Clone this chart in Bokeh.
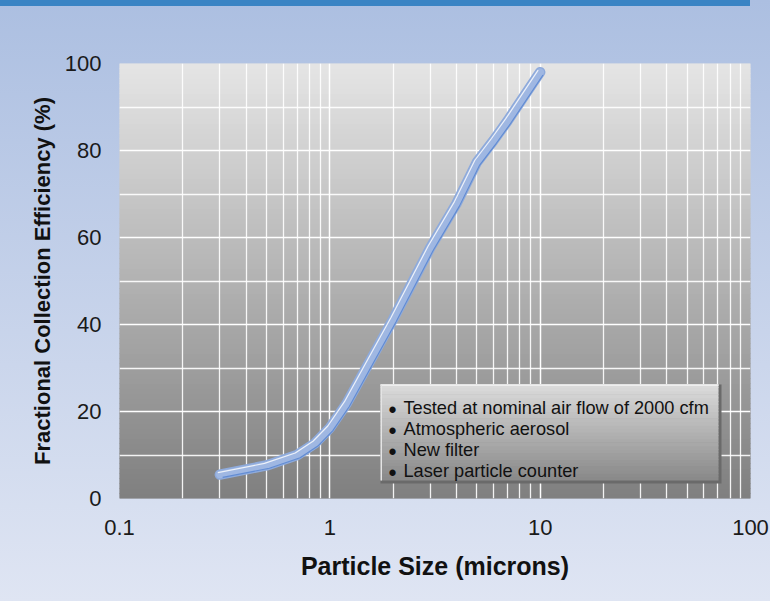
import numpy as np
from bokeh.plotting import figure
from bokeh.models import Range1d, FixedTicker, CustomJSTickFormatter, BoxAnnotation, Label
from bokeh.embed import file_html
from bokeh.resources import INLINE

# ---- data ----
particle_size = [0.3, 0.5, 0.7, 0.85, 1.0, 1.2, 1.5, 2.0, 3.0, 4.0, 5.0, 6.0, 7.0, 10.0]
efficiency = [5.5, 7.6, 10.0, 12.7, 16.2, 21.8, 30.3, 41.2, 57.6, 67.8, 77.3, 82.3, 86.8, 98.0]
x_major = [0.1, 1, 10, 100]
x_minor = [m * 10.0 ** k for k in (-1, 0, 1) for m in range(2, 10)]
y_major = [0, 20, 40, 60, 80, 100]
y_minor = [10, 30, 50, 70, 90]
notes = ["Tested at nominal air flow of 2000 cfm", "Atmospheric aerosol",
         "New filter", "Laser particle counter"]

FONT = "Liberation Sans"
W, H = 770, 601
FRAME_W, FRAME_H = 631, 435   # frame size in px (used for small screen offsets of the tube effect)

p = figure(width=W, height=H, x_axis_type="log",
           x_range=Range1d(0.1, 100), y_range=Range1d(0, 100),
           output_backend="svg", toolbar_location=None,
           min_border_left=119, min_border_right=20,
           min_border_top=63, min_border_bottom=103)
p.border_fill_color = None
p.background_fill_color = None
p.outline_line_color = None
p.styles = {"background": "linear-gradient(#3a84c4, #3a84c4) 0 0 / 750px 6px no-repeat, "
                          "linear-gradient(to bottom, #acbfe1 0%, #dfe5f3 100%)"}

# ---- frame gradient background ----
n = 87
edges = np.linspace(0, 100, n + 1)
c_top = np.array([229, 229, 229])
c_bot = np.array([127, 127, 127])
mids = (edges[:-1] + edges[1:]) / 200.0
cols = ["#%02x%02x%02x" % tuple(int(round(v)) for v in (c_bot + (c_top - c_bot) * t)) for t in mids]
bg = p.quad(left=0.1, right=100, bottom=edges[:-1], top=edges[1:],
            fill_color=cols, line_color=cols, line_width=1)
bg.level = "image"

# ---- ticks and grid ----
xt = FixedTicker(ticks=x_major, minor_ticks=x_minor)
yt = FixedTicker(ticks=y_major, minor_ticks=y_minor)
p.xaxis.ticker = xt
p.yaxis.ticker = yt
p.xgrid.ticker = xt
p.ygrid.ticker = yt
for g in (p.xgrid[0], p.ygrid[0]):
    g.grid_line_color = "white"
    g.grid_line_width = 1.5
    g.minor_grid_line_color = "white"
    g.minor_grid_line_width = 1.3
    g.minor_grid_line_alpha = 0.9

p.xaxis.formatter = CustomJSTickFormatter(code="return tick.toString();")

for ax in (p.xaxis[0], p.yaxis[0]):
    ax.axis_line_color = None
    ax.major_tick_line_color = None
    ax.minor_tick_line_color = None
    ax.major_label_text_font = FONT
    ax.major_label_text_font_size = "22px"
    ax.major_label_text_color = "#1a1a1a"
    ax.axis_label_text_font = FONT
    ax.axis_label_text_font_style = "bold"
    ax.axis_label_text_color = "#111111"

p.xaxis.axis_label = "Particle Size (microns)"
p.xaxis.axis_label_text_font_size = "25px"
p.xaxis.major_label_standoff = 15
p.xaxis.axis_label_standoff = 14
p.yaxis.axis_label = "Fractional Collection Efficiency (%)"
p.yaxis.axis_label_text_font_size = "22px"
p.yaxis.major_label_standoff = 12
p.yaxis.axis_label_standoff = 7

# ---- curve (tube look: body, light upper edge, dark lower edge) ----
xs = np.array(particle_size, dtype=float)
ys = np.array(efficiency, dtype=float)
dec_px = FRAME_W / 3.0
unit_px = FRAME_H / 100.0
p.line(xs, ys, line_width=10.5, line_color="#8eaadb",
       line_cap="round", line_join="round")
p.line(xs, ys, line_width=7.5, line_color="#9fb7e2",
       line_cap="round", line_join="round")
o = 2.0
p.line(xs * 10 ** (-o / dec_px), ys + o / unit_px, line_width=1.2,
       line_color="white", line_alpha=0.8, line_join="round")
o2 = 2.8
p.line(xs * 10 ** (o2 / dec_px), ys - o2 / unit_px, line_width=1.1,
       line_color="#4f7fcf", line_alpha=0.75, line_join="round")

# ---- notes box (frame-relative screen units) ----
L, R, B, T = 261, 602, 15, 114
p.add_layout(BoxAnnotation(left=L, right=R, bottom=B, top=T,
                           left_units="screen", right_units="screen",
                           bottom_units="screen", top_units="screen",
                           fill_color="#6a6a6a", fill_alpha=1, line_color=None))
ns = 28
yb_ = np.linspace(B + 3, T, ns + 1)
g_top = np.array([220, 220, 220])
g_bot = np.array([136, 136, 136])
for i in range(ns):
    t = (i + 0.5) / ns
    c = "#%02x%02x%02x" % tuple(int(round(v)) for v in (g_bot + (g_top - g_bot) * t))
    p.add_layout(BoxAnnotation(left=L, right=R - 3, bottom=yb_[i], top=yb_[i + 1] + 0.6,
                               left_units="screen", right_units="screen",
                               bottom_units="screen", top_units="screen",
                               fill_color=c, fill_alpha=1, line_color=None))
p.add_layout(BoxAnnotation(left=L, right=R - 3, bottom=T - 1.5, top=T,
                           left_units="screen", right_units="screen",
                           bottom_units="screen", top_units="screen",
                           fill_color="#eeeeee", fill_alpha=1, line_color=None))
p.add_layout(BoxAnnotation(left=L, right=L + 1.5, bottom=B + 3, top=T,
                           left_units="screen", right_units="screen",
                           bottom_units="screen", top_units="screen",
                           fill_color="#e4e4e4", fill_alpha=1, line_color=None))

for i, txt in enumerate(notes):
    yb = 91 - 21 * i
    p.add_layout(Label(x=273, y=yb - 2, x_units="screen", y_units="screen", text="\u2022",
                       text_align="center", text_baseline="alphabetic",
                       text_font=FONT, text_font_size="23px", text_color="#111111"))
    p.add_layout(Label(x=284, y=yb, x_units="screen", y_units="screen", text=txt,
                       text_align="left", text_baseline="alphabetic",
                       text_font=FONT, text_font_size="18.2px", text_color="#111111"))

open("out.html", "w").write(file_html(p, INLINE))
